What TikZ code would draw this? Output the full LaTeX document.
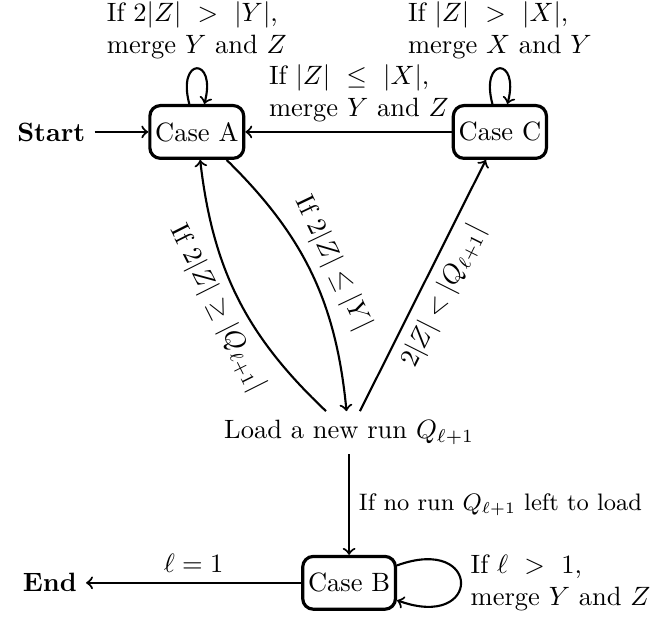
\documentclass[tikz,border=0pt]{standalone}
\begin{document}
\begin{tikzpicture}[>=to, x=1.0 cm, y=1.0 cm,
  casebox/.style={draw, very thick, rounded corners, inner sep=2pt, minimum height=0.7cm},
  link/.style={->, thick}]
\useasboundingbox (0,0) rectangle (8.78,-8.18);
% cac trang thai
\node (start) at (0.68,-1.75) {\textbf{Start}};
\node[casebox] (A) at (2.61,-1.75) {Case A};
\node[casebox] (C) at (6.63,-1.75) {Case C};
\node (load) at (4.63,-5.74) {Load a new run $Q_{\ell+1}$};
\node[casebox] (B) at (4.63,-7.73) {Case B};
\node (end) at (0.66,-7.73) {\textbf{End}};
% cac canh
\draw[link] (start) -- (A);
\draw[link] (A) to[loop above, min distance=6.5mm] node[above, align=left] {If $2|Z| \ > \ |Y|$,\\ merge $Y$ and $Z$} (A);
\draw[link] (C) to[loop above, min distance=6.5mm] node[above, align=left] {If $|Z| \ > \ |X|$,\\ merge $X$ and $Y$} (C);
\draw[link] (C) -- node[above, pos=0.45, align=left] {If $|Z| \ \leq \ |X|$,\\ merge $Y$ and $Z$} (A);
\draw[link] (A) to[bend left=20] node[sloped, above] {If $2|Z| \leq |Y|$} (load);
\draw[link] (load) to[bend left=20] node[sloped, below] {If $2|Z| \geq |Q_{\ell+1}|$} (A);
\draw[link] (load) -- node[sloped, below] {$2|Z| < |Q_{\ell+1}|$} (C);
\draw[link] (load) -- node[right, font=\small] {If no run $Q_{\ell+1}$ left to load} (B);
\draw[link] (B) to[loop, out=20, in=-20, min distance=1.2cm] node[right, align=left] {If $\ell \ > \ 1$,\\ merge $Y$ and $Z$} (B);
\draw[link] (B) -- node[above] {$\ell = 1$} (end);
\end{tikzpicture}
\end{document}
